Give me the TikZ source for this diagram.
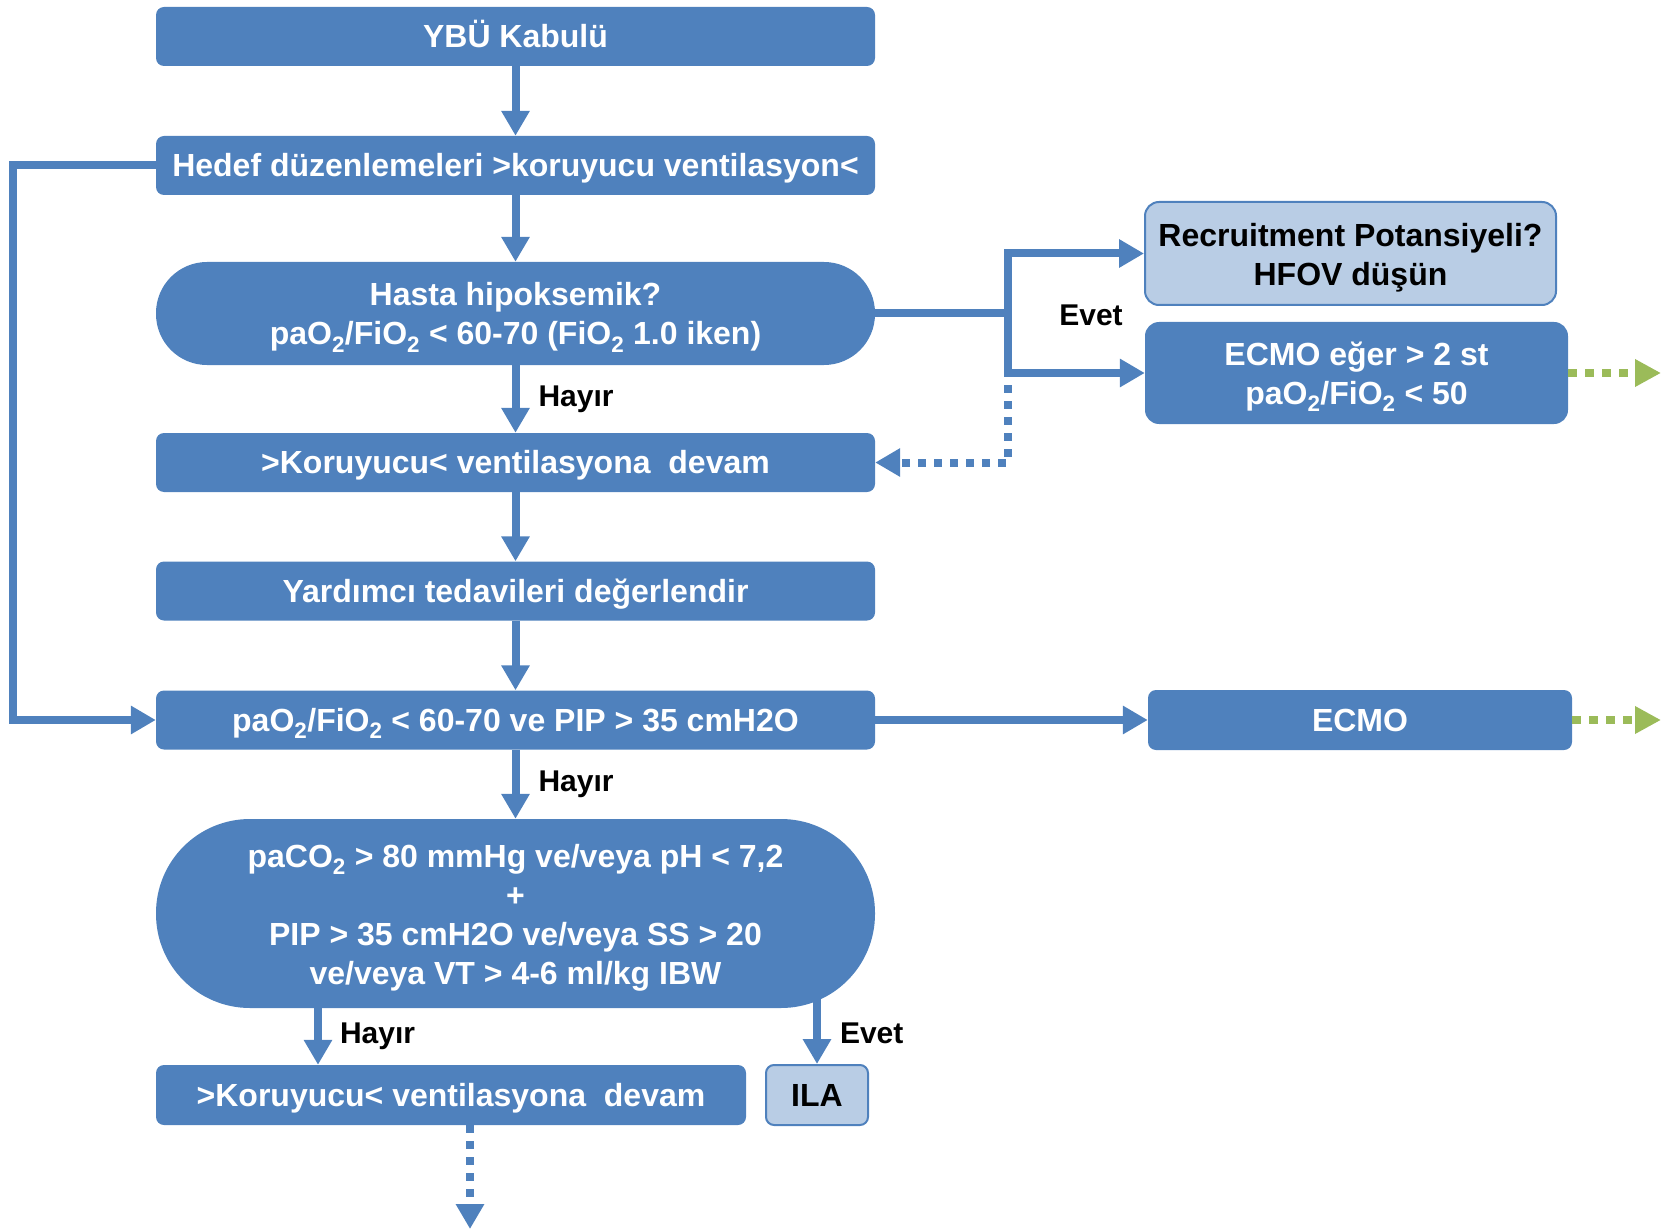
\documentclass[tikz,border=0pt]{standalone}
\usepackage{fontspec}
\setmainfont{Liberation Sans}
\usetikzlibrary{arrows.meta}
\definecolor{boxblue}{RGB}{79,129,189}
\definecolor{lightblue}{RGB}{185,205,229}
\definecolor{arrowgreen}{RGB}{155,187,89}
\newcommand{\ustbosluk}{\rule{0pt}{31pt}}

\begin{document}
\begin{tikzpicture}[x=1pt, y=-1pt,
    box/.style={rounded corners=8pt, fill=boxblue, text=white,
        font=\bfseries\fontsize{32}{39}\selectfont, align=center,
        inner sep=0pt, minimum width=719pt, minimum height=59pt},
    bar/.style={box, text height=23pt, text depth=1pt},
    stadium/.style={box, rounded corners=#1},
    lightbox/.style={fill=lightblue, draw=boxblue, line width=2pt, text=black},
    lbl/.style={font=\bfseries\fontsize{30}{35}\selectfont, inner sep=0pt, text=black},
    flow/.style={-{Triangle[length=25pt,width=27pt]}, line width=8pt, boxblue},
    dotflow/.style={flow, dash pattern=on 8pt off 8pt},
    greenflow/.style={-{Triangle[length=26pt,width=26pt]}, line width=8.5pt,
        arrowgreen, dash pattern=on 9pt off 8pt}
]
\useasboundingbox (0,0) rectangle (1664,1230);
% ana akis
\node[bar] (ybu) at (515.5,36.5) {YBÜ Kabulü};
\node[bar] (hedef) at (515.5,165.5) {Hedef düzenlemeleri >koruyucu ventilasyon<};
\node[stadium=51pt, minimum height=103pt] (hasta) at (515.5,313.5)
    {\ustbosluk Hasta hipoksemik?\\paO\textsubscript{2}/FiO\textsubscript{2} < 60-70 (FiO\textsubscript{2} 1.0 iken)};
\node[bar] (koru1) at (515.5,462.5) {>Koruyucu< ventilasyona\ \ devam};
\node[bar] (yard) at (515.5,591) {Yardımcı tedavileri değerlendir};
\node[bar] (pip) at (515.5,720)
    {paO\textsubscript{2}/FiO\textsubscript{2} < 60-70 ve PIP > 35 cmH2O};
\node[stadium=94pt, minimum height=189pt] (big) at (515.5,913.5)
    {\ustbosluk paCO\textsubscript{2} > 80 mmHg ve/veya pH < 7,2\\+\\PIP > 35 cmH2O ve/veya SS > 20\\ve/veya VT > 4-6 ml/kg IBW};
\node[bar, minimum width=590pt, minimum height=60pt] (koru2) at (451,1095)
    {>Koruyucu< ventilasyona\ \ devam};
\node[bar, lightbox, minimum width=102pt, minimum height=60pt] (ila) at (817,1095) {ILA};
% sag taraf
\node[box, lightbox, rounded corners=14pt, minimum width=411pt, minimum height=103pt] (recr)
    at (1350.5,253.5) {\ustbosluk Recruitment Potansiyeli?\\HFOV düşün};
\node[box, rounded corners=14pt, minimum width=423pt, minimum height=102pt] (ecmo1)
    at (1356.5,373) {\ustbosluk ECMO eğer > 2 st\\paO\textsubscript{2}/FiO\textsubscript{2} < 50};
\node[bar, minimum width=424pt, minimum height=60pt] (ecmo2) at (1360,720) {ECMO};
\node[lbl] (evet) at (1091,315) {Evet};
\coordinate (split) at (1008,313.5);
\coordinate (dotstart) at (1008,385);
\coordinate (out1) at (1661,373);
\coordinate (out2) at (1661,720);
\coordinate (hayirB) at (318,1008);
\coordinate (son) at (470,1229);

\draw[flow] (ybu) -- (hedef);
\draw[flow] (hedef) -- (hasta);
\draw[flow] (hasta) -- node[lbl, right=19pt] {Hayır} (koru1);
\draw[flow] (koru1) -- (yard);
\draw[flow] (yard) -- (pip);
\draw[flow] (pip) -- node[lbl, right=19pt] {Hayır} (big);
\draw[flow] (hedef.west) -- ++(-143,0) |- (pip.west);
\draw[line width=8pt, boxblue] (hasta.east) -- (split);
\draw[flow] (split) |- (recr);
\draw[flow] (split) |- (ecmo1);
\draw[dotflow] (dotstart) |- (koru1.east);
\draw[flow] (pip) -- (ecmo2);
\draw[greenflow] (ecmo1.east) -- (out1);
\draw[greenflow] (ecmo2.east) -- (out2);
\draw[flow] (hayirB) -- node[lbl, right=18pt, pos=0.5] {Hayır} (hayirB |- koru2.north);
\draw[flow] ([yshift=12pt]ila.north |- big.south) -- node[lbl, right=19pt, pos=0.55] {Evet} (ila.north);
\draw[dotflow] ([xshift=19pt]koru2.south) -- (son);
\end{tikzpicture}
\end{document}
